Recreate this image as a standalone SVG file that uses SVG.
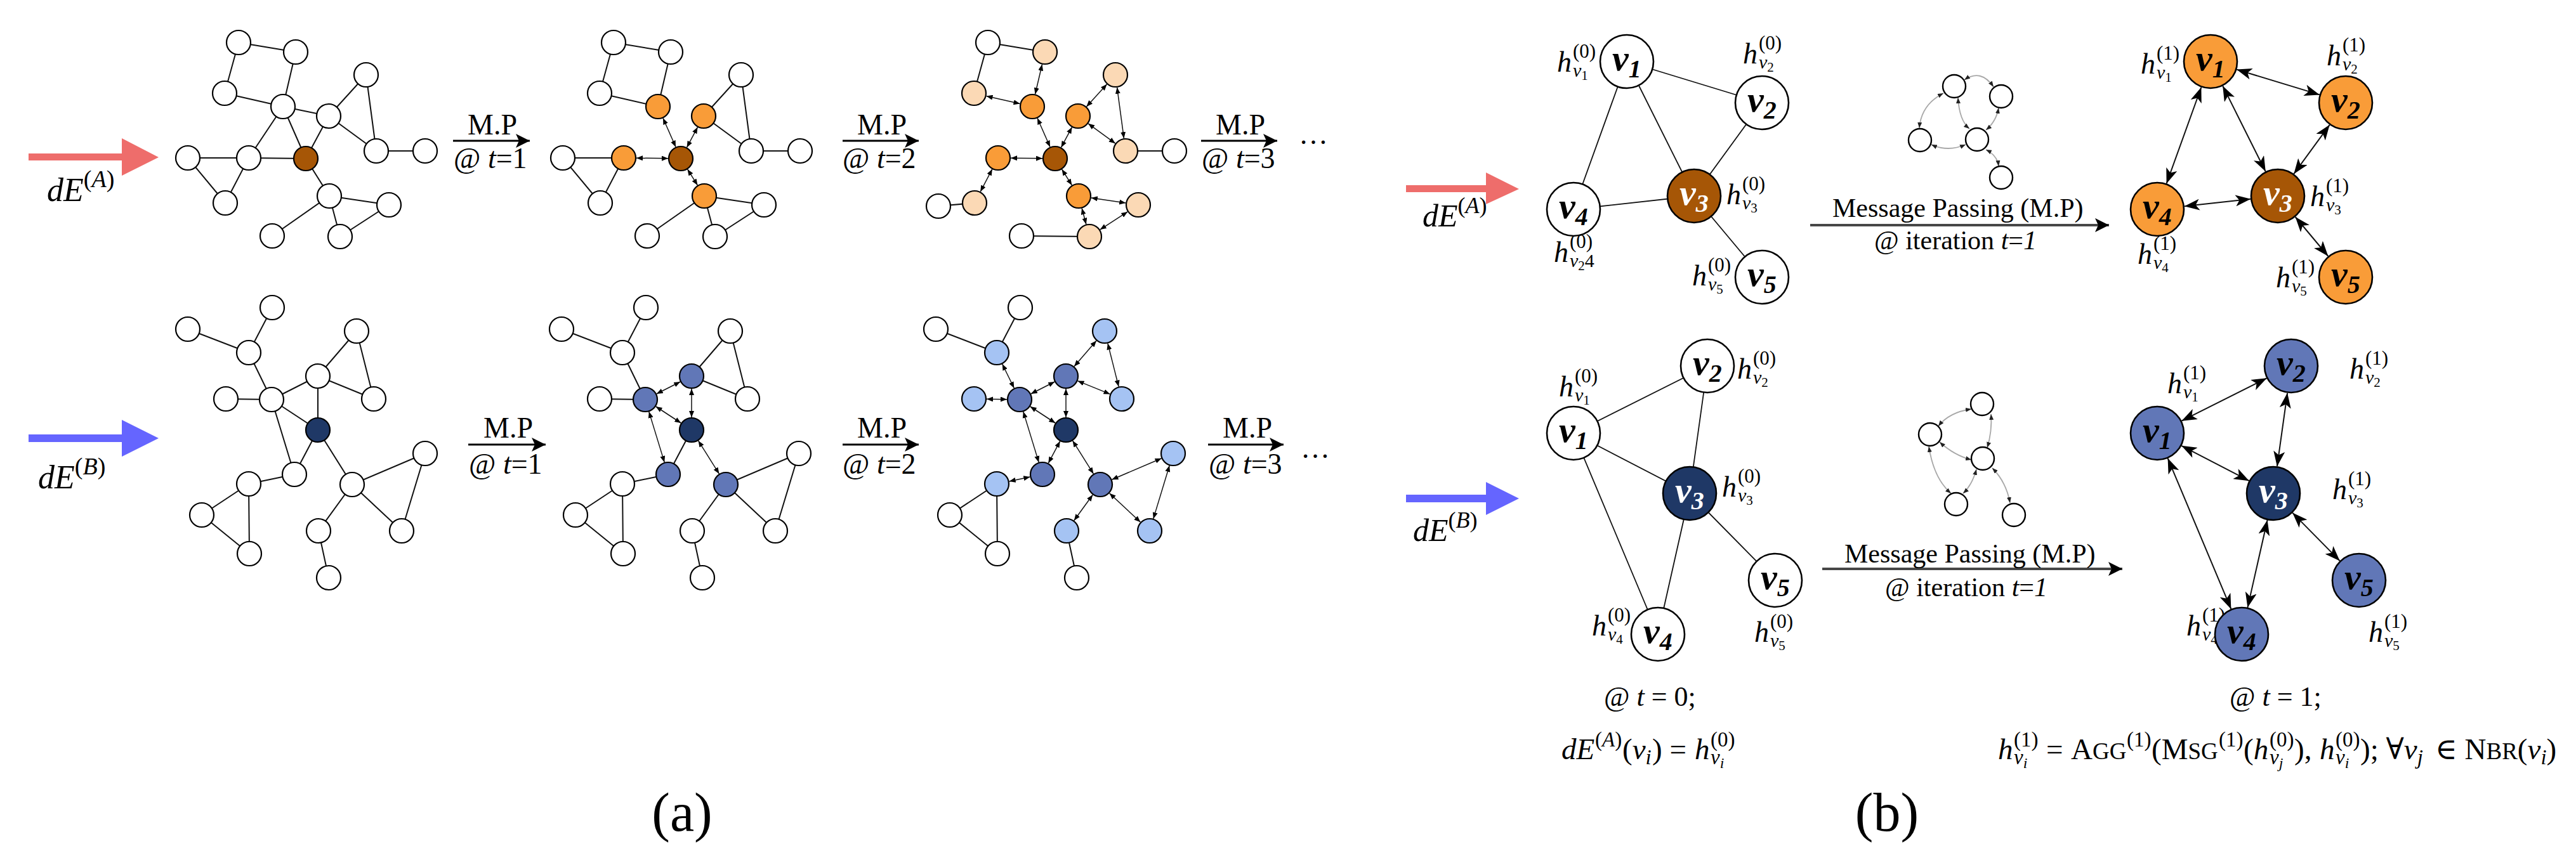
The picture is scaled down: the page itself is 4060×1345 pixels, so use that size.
<svg xmlns="http://www.w3.org/2000/svg" width="4060" height="1345" viewBox="0 0 4060 1345" font-family="'Liberation Serif', 'Times New Roman', serif">
<defs>
<style>
text{font-family:"Liberation Serif","Times New Roman","DejaVu Serif",serif;fill:#000}
.it{font-style:italic}
.up{font-style:normal}
.na{stroke:#000;stroke-width:2.2;fill:#fff}
.nb{stroke:#000;stroke-width:2.6;fill:#fff}
.ni{stroke:#000;stroke-width:2.4;fill:#fff}
.ea{stroke:#111;stroke-width:2;fill:none}
.aa{stroke:#111;stroke-width:1.5;fill:none;marker-start:url(#sa);marker-end:url(#sa)}
.eb{stroke:#111;stroke-width:1.8;fill:none}
.ab{stroke:#111;stroke-width:2;fill:none;marker-start:url(#la);marker-end:url(#la)}
.ic{stroke:#a8a8a8;stroke-width:1.8;fill:none;marker-start:url(#ga);marker-end:url(#ga)}
.mp{stroke:#000;stroke-width:3;fill:none;marker-end:url(#mh)}
.mq{stroke:#474747;stroke-width:4;fill:none;marker-end:url(#mh)}
.or{fill:#F99C38}.br{fill:#A65606}.pe{fill:#FBD9B5}.mb{fill:#6177B7}.nv{fill:#1F3866}.lb{fill:#A5C3F3}
.wt{fill:#fff}
.lab{font-size:46px}
.vl{font-size:58px;font-style:italic;font-weight:bold}
.hl{font-size:46px;font-style:italic}
</style>
<marker id="sa" markerUnits="userSpaceOnUse" markerWidth="10" markerHeight="8" refX="10" refY="4" orient="auto-start-reverse"><path d="M0,0L10,4L0,8z" fill="#000"/></marker>
<marker id="la" markerUnits="userSpaceOnUse" markerWidth="26" markerHeight="18" refX="24" refY="9" orient="auto-start-reverse"><path d="M0,0L24,9L0,18L6,9z" fill="#000"/></marker>
<marker id="ga" markerUnits="userSpaceOnUse" markerWidth="9" markerHeight="7" refX="9" refY="3.5" orient="auto-start-reverse"><path d="M0,0L9,3.5L0,7z" fill="#222"/></marker>
<marker id="mh" markerUnits="userSpaceOnUse" markerWidth="24" markerHeight="22" refX="22" refY="11" orient="auto"><path d="M0,0L22,11L0,22L5,11z" fill="#000"/></marker>
</defs>
<rect width="4060" height="1345" fill="#fff"/>

<!-- ===== Panel (a) ===== -->
<g id="a-inputs">
<polygon points="45,242 192,242 192,218 250,248 192,277 192,253 45,253" fill="#EE6D6B"/>
<text class="it" x="74" y="317" font-size="52">dE<tspan class="up" font-size="38" dy="-22">(</tspan><tspan font-size="38">A</tspan><tspan class="up" font-size="38">)</tspan></text>
<polygon points="45,685 192,685 192,662 250,691 192,720 192,697 45,697" fill="#6565FF"/>
<text class="it" x="60" y="770" font-size="52">dE<tspan class="up" font-size="38" dy="-22">(</tspan><tspan font-size="38">B</tspan><tspan class="up" font-size="38">)</tspan></text>
</g>

<g id="a-mp-arrows">
<path class="mp" d="M714,222L835,222"/>
<text class="lab" x="737" y="212">M.P</text>
<text class="lab" x="715" y="265">@ <tspan class="it">t</tspan>=1</text>
<path class="mp" d="M1328,222L1448,222"/>
<text class="lab" x="1351" y="212">M.P</text>
<text class="lab" x="1328" y="265">@ <tspan class="it">t</tspan>=2</text>
<path class="mp" d="M1893,222L2013,222"/>
<text class="lab" x="1916" y="212">M.P</text>
<text class="lab" x="1894" y="265">@ <tspan class="it">t</tspan>=3</text>
<text class="lab" x="2047" y="227">…</text>
<path class="mp" d="M738,701L860,701"/>
<text class="lab" x="762" y="690">M.P</text>
<text class="lab" x="739" y="747">@ <tspan class="it">t</tspan>=1</text>
<path class="mp" d="M1328,701L1448,701"/>
<text class="lab" x="1351" y="690">M.P</text>
<text class="lab" x="1328" y="747">@ <tspan class="it">t</tspan>=2</text>
<path class="mp" d="M1904,701L2023,701"/>
<text class="lab" x="1927" y="690">M.P</text>
<text class="lab" x="1905" y="747">@ <tspan class="it">t</tspan>=3</text>
<text class="lab" x="2050" y="722">…</text>
</g>

<!-- Graph A, t=0 -->
<g id="ga0">
<g id="ga0-edges" class="ea">
<path d="M376,67L466,82M376,67L354,147M466,82L446,168M354,147L446,168M446,168L518,183M446,168L392,249M446,168L482,250M518,183L577,118M518,183L482,250M518,183L593,238M577,118L593,238M593,238L670,238M296,249L392,249M392,249L482,250M296,249L355,320M392,249L355,320M482,250L519,309M519,309L613,323M519,309L429,372M519,309L536,373M613,323L536,373"/>
</g>
<g id="ga0-n1"><circle class="na" cx="376" cy="67" r="19"/></g>
<g id="ga0-n2"><circle class="na" cx="466" cy="82" r="19"/></g>
<g id="ga0-n3"><circle class="na" cx="354" cy="147" r="19"/></g>
<g id="ga0-n4"><circle class="na" cx="446" cy="168" r="19"/></g>
<g id="ga0-n5"><circle class="na" cx="518" cy="183" r="19"/></g>
<g id="ga0-n6"><circle class="na" cx="577" cy="118" r="19"/></g>
<g id="ga0-n7"><circle class="na" cx="593" cy="238" r="19"/></g>
<g id="ga0-n8"><circle class="na" cx="670" cy="238" r="19"/></g>
<g id="ga0-n9"><circle class="na" cx="296" cy="249" r="19"/></g>
<g id="ga0-n10"><circle class="na" cx="392" cy="249" r="19"/></g>
<g id="ga0-n11"><circle class="na br" cx="482" cy="250" r="19"/></g>
<g id="ga0-n12"><circle class="na" cx="355" cy="320" r="19"/></g>
<g id="ga0-n13"><circle class="na" cx="519" cy="309" r="19"/></g>
<g id="ga0-n14"><circle class="na" cx="613" cy="323" r="19"/></g>
<g id="ga0-n15"><circle class="na" cx="429" cy="372" r="19"/></g>
<g id="ga0-n16"><circle class="na" cx="536" cy="373" r="19"/></g>
</g>

<!-- Graph A, t=1 -->
<g id="ga1" transform="translate(591,0)">
<g id="ga1-edges">
<path class="ea" d="M376,67L466,82M376,67L354,147M466,82L446,168M354,147L446,168M518,183L577,118M518,183L593,238M577,118L593,238M593,238L670,238M296,249L392,249M296,249L355,320M392,249L355,320M519,309L613,323M519,309L429,372M519,309L536,373M613,323L536,373"/>
<path class="aa" d="M454,186.3L474,231.7"/>
<path class="aa" d="M508.5,200.6L491.5,232.4"/>
<path class="aa" d="M412,249.2L462,249.8"/>
<path class="aa" d="M492.6,266.9L508.4,292.1"/>
</g>
<g id="ga1-n1"><circle class="na" cx="376" cy="67" r="19"/></g>
<g id="ga1-n2"><circle class="na" cx="466" cy="82" r="19"/></g>
<g id="ga1-n3"><circle class="na" cx="354" cy="147" r="19"/></g>
<g id="ga1-n4"><circle class="na or" cx="446" cy="168" r="19"/></g>
<g id="ga1-n5"><circle class="na or" cx="518" cy="183" r="19"/></g>
<g id="ga1-n6"><circle class="na" cx="577" cy="118" r="19"/></g>
<g id="ga1-n7"><circle class="na" cx="593" cy="238" r="19"/></g>
<g id="ga1-n8"><circle class="na" cx="670" cy="238" r="19"/></g>
<g id="ga1-n9"><circle class="na" cx="296" cy="249" r="19"/></g>
<g id="ga1-n10"><circle class="na or" cx="392" cy="249" r="19"/></g>
<g id="ga1-n11"><circle class="na br" cx="482" cy="250" r="19"/></g>
<g id="ga1-n12"><circle class="na" cx="355" cy="320" r="19"/></g>
<g id="ga1-n13"><circle class="na or" cx="519" cy="309" r="19"/></g>
<g id="ga1-n14"><circle class="na" cx="613" cy="323" r="19"/></g>
<g id="ga1-n15"><circle class="na" cx="429" cy="372" r="19"/></g>
<g id="ga1-n16"><circle class="na" cx="536" cy="373" r="19"/></g>
</g>

<!-- Graph A, t=2 -->
<g id="ga2" transform="translate(1181,0)">
<g id="ga2-edges">
<path class="ea" d="M376,67L466,82M376,67L354,147M593,238L670,238M298,325L355,320M429,372L536,373"/>
<path class="aa" d="M461.5,101.5L450.5,148.5"/>
<path class="aa" d="M373.5,151.5L426.5,163.5"/>
<path class="aa" d="M454,186.3L474,231.7"/>
<path class="aa" d="M508.5,200.6L491.5,232.4"/>
<path class="aa" d="M531.4,168.2L563.6,132.8"/>
<path class="aa" d="M534.1,194.8L576.9,226.2"/>
<path class="aa" d="M579.6,137.8L590.4,218.2"/>
<path class="aa" d="M412,249.2L462,249.8"/>
<path class="aa" d="M382.8,266.7L364.2,302.3"/>
<path class="aa" d="M492.6,266.9L508.4,292.1"/>
<path class="aa" d="M538.8,311.9L593.2,320.1"/>
<path class="aa" d="M524.1,328.3L530.9,353.7"/>
<path class="aa" d="M596.2,333.9L552.8,362.1"/>
</g>
<g id="ga2-n1"><circle class="na" cx="376" cy="67" r="19"/></g>
<g id="ga2-n2"><circle class="na pe" cx="466" cy="82" r="19"/></g>
<g id="ga2-n3"><circle class="na pe" cx="354" cy="147" r="19"/></g>
<g id="ga2-n4"><circle class="na or" cx="446" cy="168" r="19"/></g>
<g id="ga2-n5"><circle class="na or" cx="518" cy="183" r="19"/></g>
<g id="ga2-n6"><circle class="na pe" cx="577" cy="118" r="19"/></g>
<g id="ga2-n7"><circle class="na pe" cx="593" cy="238" r="19"/></g>
<g id="ga2-n8"><circle class="na" cx="670" cy="238" r="19"/></g>
<g id="ga2-n9"><circle class="na" cx="298" cy="325" r="19"/></g>
<g id="ga2-n10"><circle class="na or" cx="392" cy="249" r="19"/></g>
<g id="ga2-n11"><circle class="na br" cx="482" cy="250" r="19"/></g>
<g id="ga2-n12"><circle class="na pe" cx="355" cy="320" r="19"/></g>
<g id="ga2-n13"><circle class="na or" cx="519" cy="309" r="19"/></g>
<g id="ga2-n14"><circle class="na pe" cx="613" cy="323" r="19"/></g>
<g id="ga2-n15"><circle class="na" cx="429" cy="372" r="19"/></g>
<g id="ga2-n16"><circle class="na pe" cx="536" cy="373" r="19"/></g>
</g>

<!-- Graph B, t=0 -->
<g id="gb0">
<g id="gb0-edges" class="ea">
<path d="M429,485L392,556M296,519L392,556M392,556L428,630M356,629L428,630M428,630L501,593M428,630L501,678M428,630L464,748M501,593L562,522M501,593L589,629M562,522L589,629M501,593L501,678M501,678L464,748M501,678L555,764M464,748L392,763M392,763L318,812M392,763L393,873M318,812L393,873M555,764L670,715M555,764L502,837M555,764L633,837M670,715L633,837M502,837L518,911"/>
</g>
<g id="gb0-n1"><circle class="na" cx="429" cy="485" r="19"/></g>
<g id="gb0-n2"><circle class="na" cx="296" cy="519" r="19"/></g>
<g id="gb0-n3"><circle class="na" cx="392" cy="556" r="19"/></g>
<g id="gb0-n4"><circle class="na" cx="562" cy="522" r="19"/></g>
<g id="gb0-n5"><circle class="na" cx="501" cy="593" r="19"/></g>
<g id="gb0-n6"><circle class="na" cx="356" cy="629" r="19"/></g>
<g id="gb0-n7"><circle class="na" cx="428" cy="630" r="19"/></g>
<g id="gb0-n8"><circle class="na" cx="589" cy="629" r="19"/></g>
<g id="gb0-n9"><circle class="na nv" cx="501" cy="678" r="19"/></g>
<g id="gb0-n10"><circle class="na" cx="464" cy="748" r="19"/></g>
<g id="gb0-n11"><circle class="na" cx="392" cy="763" r="19"/></g>
<g id="gb0-n12"><circle class="na" cx="670" cy="715" r="19"/></g>
<g id="gb0-n13"><circle class="na" cx="555" cy="764" r="19"/></g>
<g id="gb0-n14"><circle class="na" cx="318" cy="812" r="19"/></g>
<g id="gb0-n15"><circle class="na" cx="502" cy="837" r="19"/></g>
<g id="gb0-n16"><circle class="na" cx="633" cy="837" r="19"/></g>
<g id="gb0-n17"><circle class="na" cx="393" cy="873" r="19"/></g>
<g id="gb0-n18"><circle class="na" cx="518" cy="911" r="19"/></g>
</g>

<!-- Graph B, t=1 -->
<g id="gb1" transform="translate(589,0)">
<g id="gb1-edges">
<path class="ea" d="M429,485L392,556M296,519L392,556M392,556L428,630M356,629L428,630M501,593L562,522M501,593L589,629M562,522L589,629M501,678L464,748M464,748L392,763M392,763L318,812M392,763L393,873M318,812L393,873M555,764L670,715M555,764L502,837M555,764L633,837M670,715L633,837M502,837L518,911"/>
<path class="aa" d="M445.8,621L483.2,602"/>
<path class="aa" d="M444.7,641L484.3,667"/>
<path class="aa" d="M433.8,649.1L458.2,728.9"/>
<path class="aa" d="M501,613L501,658"/>
<path class="aa" d="M511.6,694.9L544.4,747.1"/>
</g>
<g id="gb1-n1"><circle class="na" cx="429" cy="485" r="19"/></g>
<g id="gb1-n2"><circle class="na" cx="296" cy="519" r="19"/></g>
<g id="gb1-n3"><circle class="na" cx="392" cy="556" r="19"/></g>
<g id="gb1-n4"><circle class="na" cx="562" cy="522" r="19"/></g>
<g id="gb1-n5"><circle class="na mb" cx="501" cy="593" r="19"/></g>
<g id="gb1-n6"><circle class="na" cx="356" cy="629" r="19"/></g>
<g id="gb1-n7"><circle class="na mb" cx="428" cy="630" r="19"/></g>
<g id="gb1-n8"><circle class="na" cx="589" cy="629" r="19"/></g>
<g id="gb1-n9"><circle class="na nv" cx="501" cy="678" r="19"/></g>
<g id="gb1-n10"><circle class="na mb" cx="464" cy="748" r="19"/></g>
<g id="gb1-n11"><circle class="na" cx="392" cy="763" r="19"/></g>
<g id="gb1-n12"><circle class="na" cx="670" cy="715" r="19"/></g>
<g id="gb1-n13"><circle class="na mb" cx="555" cy="764" r="19"/></g>
<g id="gb1-n14"><circle class="na" cx="318" cy="812" r="19"/></g>
<g id="gb1-n15"><circle class="na" cx="502" cy="837" r="19"/></g>
<g id="gb1-n16"><circle class="na" cx="633" cy="837" r="19"/></g>
<g id="gb1-n17"><circle class="na" cx="393" cy="873" r="19"/></g>
<g id="gb1-n18"><circle class="na" cx="518" cy="911" r="19"/></g>
</g>

<!-- Graph B, t=2 -->
<g id="gb2" transform="translate(1179,0)">
<g id="gb2-edges">
<path class="ea" d="M429,485L392,556M296,519L392,556M392,763L318,812M392,763L393,873M318,812L393,873M502,837L518,911"/>
<path class="aa" d="M400.7,574L419.3,612"/>
<path class="aa" d="M376,629.3L408,629.7"/>
<path class="aa" d="M445.8,621L483.2,602"/>
<path class="aa" d="M444.7,641L484.3,667"/>
<path class="aa" d="M433.8,649.1L458.2,728.9"/>
<path class="aa" d="M514,577.8L549,537.2"/>
<path class="aa" d="M519.5,600.6L570.5,621.4"/>
<path class="aa" d="M566.9,541.4L584.1,609.6"/>
<path class="aa" d="M501,613L501,658"/>
<path class="aa" d="M491.7,695.7L473.3,730.3"/>
<path class="aa" d="M511.6,694.9L544.4,747.1"/>
<path class="aa" d="M444.4,752.1L411.6,758.9"/>
<path class="aa" d="M573.4,756.2L651.6,722.8"/>
<path class="aa" d="M543.2,780.2L513.8,820.8"/>
<path class="aa" d="M569.6,777.7L618.4,823.3"/>
<path class="aa" d="M664.2,734.1L638.8,817.9"/>
</g>
<g id="gb2-n1"><circle class="na" cx="429" cy="485" r="19"/></g>
<g id="gb2-n2"><circle class="na" cx="296" cy="519" r="19"/></g>
<g id="gb2-n3"><circle class="na lb" cx="392" cy="556" r="19"/></g>
<g id="gb2-n4"><circle class="na lb" cx="562" cy="522" r="19"/></g>
<g id="gb2-n5"><circle class="na mb" cx="501" cy="593" r="19"/></g>
<g id="gb2-n6"><circle class="na lb" cx="356" cy="629" r="19"/></g>
<g id="gb2-n7"><circle class="na mb" cx="428" cy="630" r="19"/></g>
<g id="gb2-n8"><circle class="na lb" cx="589" cy="629" r="19"/></g>
<g id="gb2-n9"><circle class="na nv" cx="501" cy="678" r="19"/></g>
<g id="gb2-n10"><circle class="na mb" cx="464" cy="748" r="19"/></g>
<g id="gb2-n11"><circle class="na lb" cx="392" cy="763" r="19"/></g>
<g id="gb2-n12"><circle class="na lb" cx="670" cy="715" r="19"/></g>
<g id="gb2-n13"><circle class="na mb" cx="555" cy="764" r="19"/></g>
<g id="gb2-n14"><circle class="na" cx="318" cy="812" r="19"/></g>
<g id="gb2-n15"><circle class="na lb" cx="502" cy="837" r="19"/></g>
<g id="gb2-n16"><circle class="na lb" cx="633" cy="837" r="19"/></g>
<g id="gb2-n17"><circle class="na" cx="393" cy="873" r="19"/></g>
<g id="gb2-n18"><circle class="na" cx="518" cy="911" r="19"/></g>
</g>

<text x="1075" y="1310" font-size="86" text-anchor="middle">(a)</text>

<!-- ===== Panel (b) ===== -->
<g id="b-inputs">
<polygon points="2216,292 2342,292 2342,272 2394,298 2342,322 2342,303 2216,303" fill="#EE6D6B"/>
<text class="it" x="2242" y="357" font-size="50">dE<tspan class="up" font-size="36" dy="-21">(</tspan><tspan font-size="36">A</tspan><tspan class="up" font-size="36">)</tspan></text>
<polygon points="2216,780 2342,780 2342,760 2394,786 2342,812 2342,792 2216,792" fill="#6565FF"/>
<text class="it" x="2227" y="853" font-size="50">dE<tspan class="up" font-size="36" dy="-21">(</tspan><tspan font-size="36">B</tspan><tspan class="up" font-size="36">)</tspan></text>
</g>

<!-- top t=0 -->
<g id="bt0-edges" class="eb">
<path d="M2564,97L2777,162M2564,97L2670,309M2564,97L2480,330M2777,162L2670,309M2670,309L2480,330M2670,309L2777,437"/>
</g>
<g id="bt0-v1"><text class="hl" x="2454" y="113">h<tspan class="up" font-size="31" x="2479" y="91">(0)</tspan><tspan font-size="30" x="2479" y="121">v</tspan><tspan class="up" font-size="21" y="126">1</tspan></text><circle class="nb" cx="2564" cy="97" r="42"/><text class="vl" x="2541" y="111">v<tspan font-size="40" y="122">1</tspan></text></g>
<g id="bt0-v2"><text class="hl" x="2747" y="100">h<tspan class="up" font-size="31" x="2772" y="78">(0)</tspan><tspan font-size="30" x="2772" y="108">v</tspan><tspan class="up" font-size="21" y="113">2</tspan></text><circle class="nb" cx="2777" cy="162" r="42"/><text class="vl" x="2754" y="176">v<tspan font-size="40" y="187">2</tspan></text></g>
<g id="bt0-v3"><text class="hl" x="2721" y="322">h<tspan class="up" font-size="31" x="2746" y="300">(0)</tspan><tspan font-size="30" x="2746" y="330">v</tspan><tspan class="up" font-size="21" y="335">3</tspan></text><circle class="nb br" cx="2670" cy="309" r="42"/><text class="vl wt" x="2647" y="323">v<tspan font-size="40" y="334">3</tspan></text></g>
<g id="bt0-v4"><text class="hl" x="2449" y="413">h<tspan class="up" font-size="31" x="2474" y="391">(0)</tspan><tspan font-size="30" x="2474" y="421">v</tspan><tspan class="up" font-size="21" y="426">2</tspan><tspan class="up" font-size="30" y="421">4</tspan></text><circle class="nb" cx="2480" cy="330" r="42"/><text class="vl" x="2457" y="344">v<tspan font-size="40" y="355">4</tspan></text></g>
<g id="bt0-v5"><text class="hl" x="2667" y="450">h<tspan class="up" font-size="31" x="2692" y="428">(0)</tspan><tspan font-size="30" x="2692" y="458">v</tspan><tspan class="up" font-size="21" y="463">5</tspan></text><circle class="nb" cx="2777" cy="437" r="42"/><text class="vl" x="2754" y="451">v<tspan font-size="40" y="462">5</tspan></text></g>

<!-- top icon -->
<g id="icon-top">
<g id="icon-top-edges">
<path class="ic" d="M3096,126Q3122,108 3142,137"/>
<path class="ic" d="M3063,147Q3028,165 3025,202"/>
<path class="ic" d="M3086,154Q3088,190 3104,203"/>
<path class="ic" d="M3150,170Q3146,192 3130,205"/>
<path class="ic" d="M3044,228Q3070,240 3098,228"/>
<path class="ic" d="M3130,236Q3148,245 3150,262"/>
</g>
<g id="it-1"><circle class="ni" cx="3080" cy="136" r="18"/></g>
<g id="it-2"><circle class="ni" cx="3154" cy="152" r="18"/></g>
<g id="it-3"><circle class="ni" cx="3026" cy="221" r="18"/></g>
<g id="it-4"><circle class="ni" cx="3116" cy="220" r="18"/></g>
<g id="it-5"><circle class="ni" cx="3154" cy="280" r="18"/></g>
</g>

<g id="b-mp-top">
<path class="mq" d="M2853,355L3324,355"/>
<text x="2888" y="342" font-size="42">Message Passing (M.P)</text>
<text x="2954" y="393" font-size="42">@ iteration <tspan class="it">t</tspan>=<tspan class="it">1</tspan></text>
</g>

<!-- top t=1 -->
<g id="bt1-edges">
<path class="ab" d="M3525.1,109.6L3655.9,149.4"/>
<path class="ab" d="M3503.2,135.4L3570.8,270.6"/>
<path class="ab" d="M3469.4,137.5L3414.6,289.5"/>
<path class="ab" d="M3671.7,196.8L3615.3,274.2"/>
<path class="ab" d="M3547.3,313.7L3442.7,325.3"/>
<path class="ab" d="M3617.6,342L3669.4,404"/>
</g>
<g id="bt1-v1"><text class="hl" x="3374" y="116">h<tspan class="up" font-size="31" x="3399" y="94">(1)</tspan><tspan font-size="30" x="3399" y="124">v</tspan><tspan class="up" font-size="21" y="129">1</tspan></text><circle class="nb or" cx="3484" cy="97" r="42"/><text class="vl" x="3461" y="111">v<tspan font-size="40" y="122">1</tspan></text></g>
<g id="bt1-v2"><text class="hl" x="3667" y="103">h<tspan class="up" font-size="31" x="3692" y="81">(1)</tspan><tspan font-size="30" x="3692" y="111">v</tspan><tspan class="up" font-size="21" y="116">2</tspan></text><circle class="nb or" cx="3697" cy="162" r="42"/><text class="vl" x="3674" y="176">v<tspan font-size="40" y="187">2</tspan></text></g>
<g id="bt1-v3"><text class="hl" x="3641" y="325">h<tspan class="up" font-size="31" x="3666" y="303">(1)</tspan><tspan font-size="30" x="3666" y="333">v</tspan><tspan class="up" font-size="21" y="338">3</tspan></text><circle class="nb br" cx="3590" cy="309" r="42"/><text class="vl wt" x="3567" y="323">v<tspan font-size="40" y="334">3</tspan></text></g>
<g id="bt1-v4"><text class="hl" x="3369" y="416">h<tspan class="up" font-size="31" x="3394" y="394">(1)</tspan><tspan font-size="30" x="3394" y="424">v</tspan><tspan class="up" font-size="21" y="429">4</tspan></text><circle class="nb or" cx="3400" cy="330" r="42"/><text class="vl" x="3377" y="344">v<tspan font-size="40" y="355">4</tspan></text></g>
<g id="bt1-v5"><text class="hl" x="3587" y="453">h<tspan class="up" font-size="31" x="3612" y="431">(1)</tspan><tspan font-size="30" x="3612" y="461">v</tspan><tspan class="up" font-size="21" y="466">5</tspan></text><circle class="nb or" cx="3697" cy="437" r="42"/><text class="vl" x="3674" y="451">v<tspan font-size="40" y="462">5</tspan></text></g>

<!-- bottom t=0 -->
<g id="bb0-edges" class="eb">
<path d="M2480,683L2691,577M2480,683L2663,778M2480,683L2613,1000M2691,577L2663,778M2663,778L2613,1000M2663,778L2798,915"/>
</g>
<g id="bb0-v1"><text class="hl" x="2457" y="625">h<tspan class="up" font-size="31" x="2482" y="603">(0)</tspan><tspan font-size="30" x="2482" y="633">v</tspan><tspan class="up" font-size="21" y="638">1</tspan></text><circle class="nb" cx="2480" cy="683" r="42"/><text class="vl" x="2457" y="697">v<tspan font-size="40" y="708">1</tspan></text></g>
<g id="bb0-v2"><text class="hl" x="2738" y="597">h<tspan class="up" font-size="31" x="2763" y="575">(0)</tspan><tspan font-size="30" x="2763" y="605">v</tspan><tspan class="up" font-size="21" y="610">2</tspan></text><circle class="nb" cx="2691" cy="577" r="42"/><text class="vl" x="2668" y="591">v<tspan font-size="40" y="602">2</tspan></text></g>
<g id="bb0-v3"><text class="hl" x="2714" y="783">h<tspan class="up" font-size="31" x="2739" y="761">(0)</tspan><tspan font-size="30" x="2739" y="791">v</tspan><tspan class="up" font-size="21" y="796">3</tspan></text><circle class="nb nv" cx="2663" cy="778" r="42"/><text class="vl wt" x="2640" y="792">v<tspan font-size="40" y="803">3</tspan></text></g>
<g id="bb0-v4"><text class="hl" x="2509" y="1002">h<tspan class="up" font-size="31" x="2534" y="980">(0)</tspan><tspan font-size="30" x="2534" y="1010">v</tspan><tspan class="up" font-size="21" y="1015">4</tspan></text><circle class="nb" cx="2613" cy="1000" r="42"/><text class="vl" x="2590" y="1014">v<tspan font-size="40" y="1025">4</tspan></text></g>
<g id="bb0-v5"><text class="hl" x="2765" y="1012">h<tspan class="up" font-size="31" x="2790" y="990">(0)</tspan><tspan font-size="30" x="2790" y="1020">v</tspan><tspan class="up" font-size="21" y="1025">5</tspan></text><circle class="nb" cx="2798" cy="915" r="42"/><text class="vl" x="2775" y="929">v<tspan font-size="40" y="940">5</tspan></text></g>

<!-- bottom icon -->
<g id="icon-bot">
<g id="icon-bot-edges">
<path class="ic" d="M3107,645Q3072,650 3055,672"/>
<path class="ic" d="M3138,653Q3140,680 3132,706"/>
<path class="ic" d="M3057,697Q3080,718 3107,725"/>
<path class="ic" d="M3040,704Q3048,755 3075,778"/>
<path class="ic" d="M3115,740Q3108,765 3094,778"/>
<path class="ic" d="M3140,738Q3162,760 3168,793"/>
</g>
<g id="ib-1"><circle class="ni" cx="3124" cy="637" r="18"/></g>
<g id="ib-2"><circle class="ni" cx="3042" cy="685" r="18"/></g>
<g id="ib-3"><circle class="ni" cx="3125" cy="723" r="18"/></g>
<g id="ib-4"><circle class="ni" cx="3083" cy="795" r="18"/></g>
<g id="ib-5"><circle class="ni" cx="3174" cy="812" r="18"/></g>
</g>

<g id="b-mp-bot">
<path class="mq" d="M2872,897L3345,897"/>
<text x="2907" y="887" font-size="42">Message Passing (M.P)</text>
<text x="2971" y="940" font-size="42">@ iteration <tspan class="it">t</tspan>=<tspan class="it">1</tspan></text>
</g>

<!-- bottom t=1 -->
<g id="bb1-edges">
<path class="ab" d="M3438.4,663.7L3572.6,596.3"/>
<path class="ab" d="M3438.2,702.8L3544.8,758.2"/>
<path class="ab" d="M3416.6,722.6L3516.4,960.4"/>
<path class="ab" d="M3605.1,619.6L3588.9,735.4"/>
<path class="ab" d="M3573.6,820L3542.4,958.1"/>
<path class="ab" d="M3613.2,808.6L3687.8,884.4"/>
</g>
<g id="bb1-v1"><text class="hl" x="3416" y="620">h<tspan class="up" font-size="31" x="3441" y="598">(1)</tspan><tspan font-size="30" x="3441" y="628">v</tspan><tspan class="up" font-size="21" y="633">1</tspan></text><circle class="nb mb" cx="3400" cy="683" r="42"/><text class="vl" x="3377" y="697">v<tspan font-size="40" y="708">1</tspan></text></g>
<g id="bb1-v2"><text class="hl" x="3703" y="597">h<tspan class="up" font-size="31" x="3728" y="575">(1)</tspan><tspan font-size="30" x="3728" y="605">v</tspan><tspan class="up" font-size="21" y="610">2</tspan></text><circle class="nb mb" cx="3611" cy="577" r="42"/><text class="vl" x="3588" y="591">v<tspan font-size="40" y="602">2</tspan></text></g>
<g id="bb1-v3"><text class="hl" x="3676" y="787">h<tspan class="up" font-size="31" x="3701" y="765">(1)</tspan><tspan font-size="30" x="3701" y="795">v</tspan><tspan class="up" font-size="21" y="800">3</tspan></text><circle class="nb nv" cx="3583" cy="778" r="42"/><text class="vl wt" x="3560" y="792">v<tspan font-size="40" y="803">3</tspan></text></g>
<g id="bb1-v4"><text class="hl" x="3446" y="1002">h<tspan class="up" font-size="31" x="3471" y="980">(1)</tspan><tspan font-size="30" x="3471" y="1010">v</tspan><tspan class="up" font-size="21" y="1015">4</tspan></text><circle class="nb mb" cx="3533" cy="1000" r="42"/><text class="vl" x="3510" y="1014">v<tspan font-size="40" y="1025">4</tspan></text></g>
<g id="bb1-v5"><text class="hl" x="3733" y="1012">h<tspan class="up" font-size="31" x="3758" y="990">(1)</tspan><tspan font-size="30" x="3758" y="1020">v</tspan><tspan class="up" font-size="21" y="1025">5</tspan></text><circle class="nb mb" cx="3718" cy="915" r="42"/><text class="vl" x="3695" y="929">v<tspan font-size="40" y="940">5</tspan></text></g>

<!-- equations -->
<g id="b-eq">
<text x="2528" y="1113" font-size="44">@ <tspan class="it">t</tspan> = 0;</text>
<text x="3514" y="1113" font-size="44">@ <tspan class="it">t</tspan> = 1;</text>
<text font-size="47"><tspan class="it" x="2461" y="1197">dE</tspan><tspan font-size="33" x="2514" y="1177">(</tspan><tspan class="it" font-size="33">A</tspan><tspan font-size="33">)</tspan><tspan x="2557" y="1197">(</tspan><tspan class="it">v</tspan><tspan class="it" font-size="33" y="1205">i</tspan><tspan x="2604" y="1197">) = </tspan><tspan class="it" x="2671">h</tspan><tspan font-size="33" x="2696" y="1177">(0)</tspan><tspan class="it" font-size="33" x="2696" y="1205">v</tspan><tspan class="it" font-size="24" y="1211">i</tspan></text>
<text font-size="47"><tspan class="it" x="3149" y="1197">h</tspan><tspan font-size="33" x="3174" y="1177">(1)</tspan><tspan class="it" font-size="33" x="3174" y="1205">v</tspan><tspan class="it" font-size="24" y="1211">i</tspan><tspan x="3225" y="1197">=</tspan><tspan x="3264">A</tspan><tspan font-size="37">GG</tspan><tspan font-size="33" x="3352" y="1177">(1)</tspan><tspan x="3391" y="1197">(M</tspan><tspan font-size="37">SG</tspan><tspan font-size="33" x="3497" y="1177">(1)</tspan><tspan x="3536" y="1197">(</tspan><tspan class="it">h</tspan><tspan font-size="33" x="3577" y="1177">(0)</tspan><tspan class="it" font-size="33" x="3577" y="1205">v</tspan><tspan class="it" font-size="24" y="1211">j</tspan><tspan x="3616" y="1197">), </tspan><tspan class="it" x="3656">h</tspan><tspan font-size="33" x="3681" y="1177">(0)</tspan><tspan class="it" font-size="33" x="3681" y="1205">v</tspan><tspan class="it" font-size="24" y="1211">i</tspan><tspan x="3720" y="1197">); ∀</tspan><tspan class="it">v</tspan><tspan class="it" font-size="33" y="1205">j</tspan><tspan x="3838" y="1197">∈ N</tspan><tspan font-size="37">BR</tspan><tspan font-size="47">(</tspan><tspan class="it">v</tspan><tspan class="it" font-size="33" y="1205">i</tspan><tspan y="1197">)</tspan></text>
</g>

<text x="2974" y="1310" font-size="86" text-anchor="middle">(b)</text>
</svg>
